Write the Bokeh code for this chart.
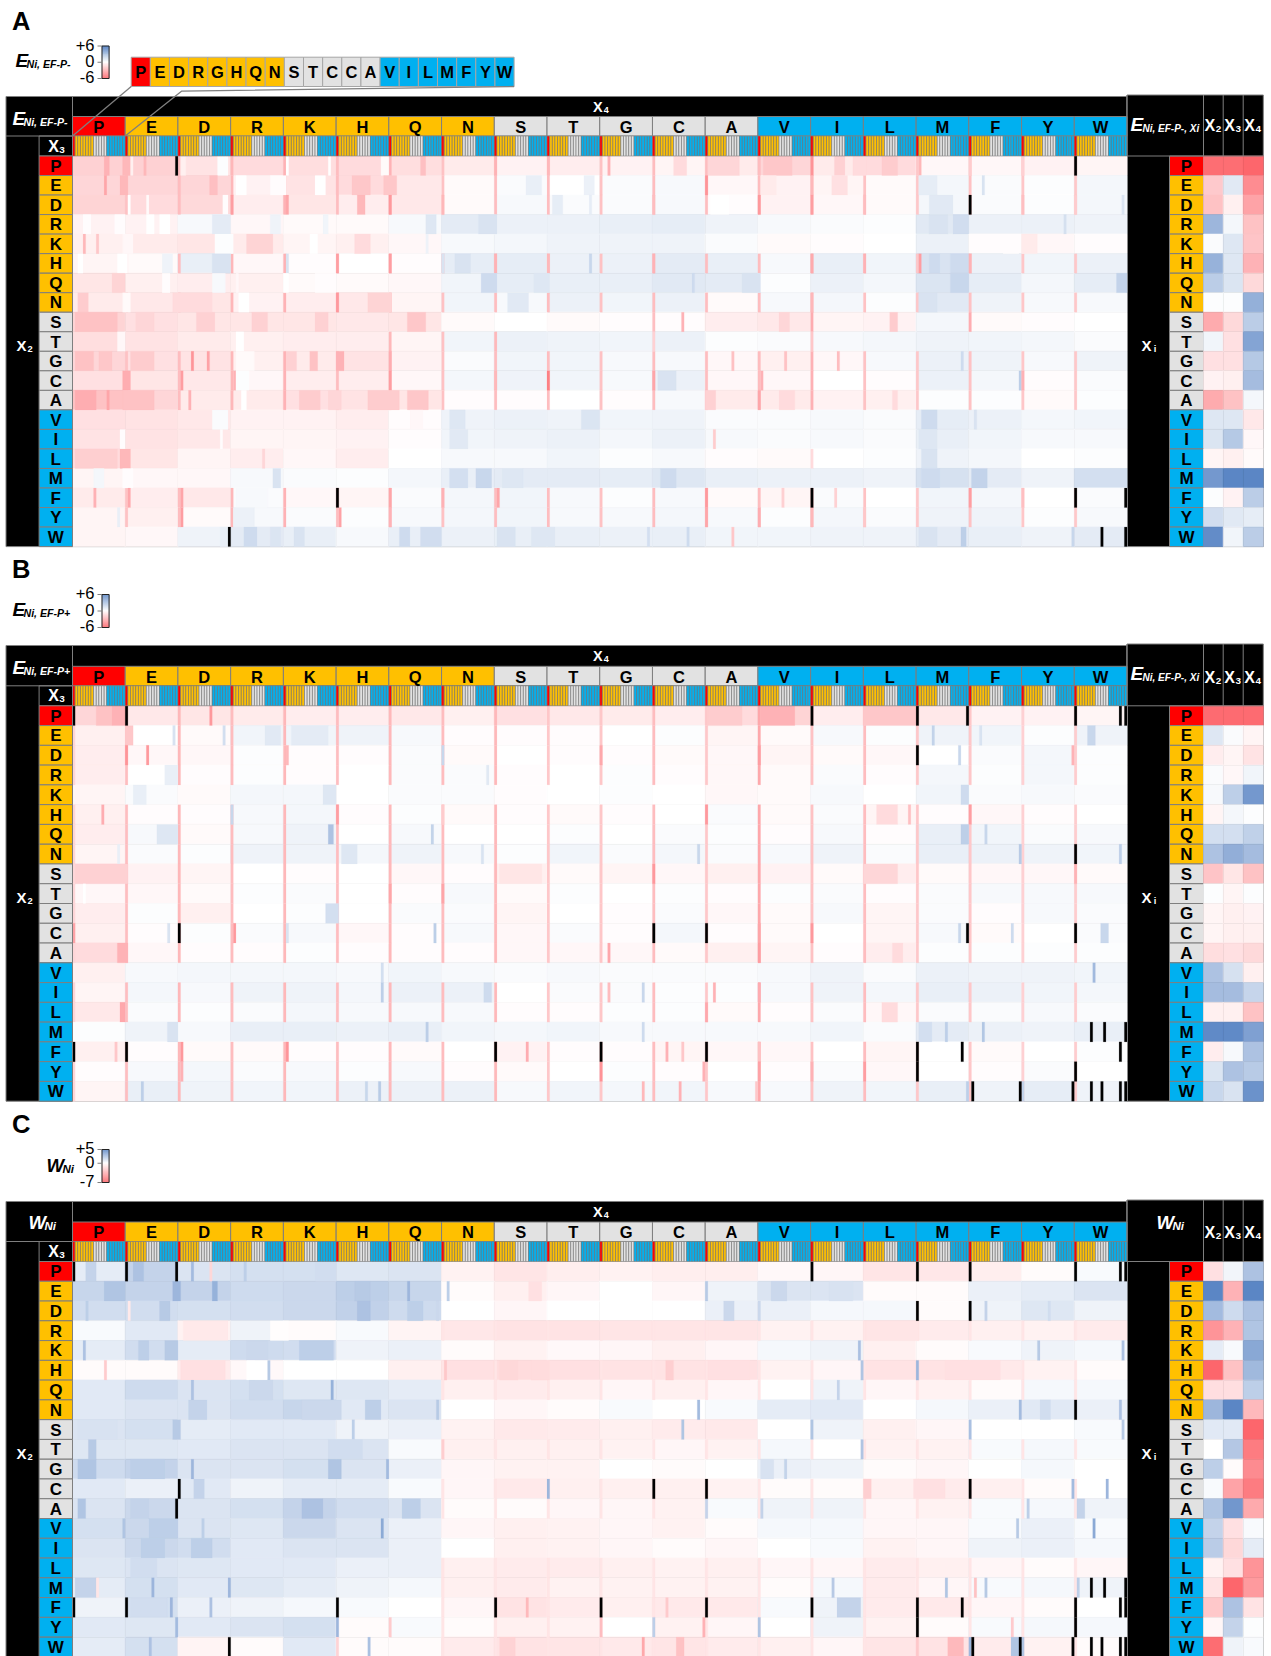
from bokeh.plotting import figure
from bokeh.models import Range1d, ColumnDataSource
from bokeh.embed import file_html
from bokeh.resources import INLINE
from bokeh.core.properties import value

X_AA = list("PEDRKHQNSTGCAVILMFYW")
KEY_AA = list("PEDRGHQNSTCCAVILMFYW")
GROUPS = ["P"] + ["pol"] * 7 + ["sma"] * 5 + ["hyd"] * 7

# Heat values, one per X2 row and X4 block, in tenths of a score unit
A_heat = [
 [-18,-18,-11,-14,-13,-14,-13,-8,-5,-7,-5,-4,-8,-16,-8,-14,-3,-3,-5,-4],
 [-16,-16,-16,-5,-11,-14,-9,-2,2,0,2,3,-3,-5,-4,-2,4,2,1,4],
 [-17,-14,-15,-7,-10,-7,-9,-2,3,2,2,3,-1,-5,-3,-2,4,2,1,4],
 [-5,-5,3,-3,-2,-2,3,10,7,7,8,9,6,3,2,1,11,7,7,6],
 [-6,-8,-10,-8,-4,-6,-3,3,4,6,6,6,2,-2,-1,0,7,-1,-3,-1],
 [-4,-2,8,-3,-1,0,-1,9,9,7,7,10,8,3,8,5,14,7,5,7],
 [-10,-6,-7,-6,-2,-2,-3,5,9,8,8,11,10,1,7,4,13,9,4,9],
 [-8,-9,-10,-5,-7,-9,-4,5,3,7,5,7,-2,3,4,1,11,6,3,3],
 [-17,-12,-10,-10,-10,-9,-10,-2,0,-2,-1,-1,-7,-9,-4,-5,4,-2,-1,0],
 [-13,-11,-8,-6,-7,-7,-4,5,7,6,5,7,1,2,3,4,6,5,4,2],
 [-16,-12,-11,-6,-8,-11,-5,2,5,5,3,3,-3,-6,-3,3,7,6,3,6],
 [-12,-10,-9,-3,-7,-7,-3,4,6,5,3,7,-3,-3,0,-1,7,4,-1,2],
 [-24,-16,-8,-8,-12,-11,-10,-1,-1,0,-1,3,-8,-8,-5,-6,1,1,-2,1],
 [-12,-11,-9,-5,-5,-7,-1,6,7,6,5,6,2,2,3,2,9,7,4,5],
 [-11,-11,-9,-4,-4,-5,-1,5,6,7,4,7,3,2,3,2,8,5,3,3],
 [-14,-10,-4,-7,-3,-7,0,3,3,5,1,3,-1,-2,0,1,6,4,0,1],
 [-4,-3,-3,3,2,1,4,8,10,10,9,12,8,7,7,6,15,10,6,16],
 [-8,-7,-9,2,-3,-4,2,4,5,3,1,3,-2,-4,2,0,5,4,0,2],
 [-4,-6,-2,3,2,1,3,4,5,3,3,4,3,1,4,2,6,6,1,3],
 [-4,-3,6,10,8,3,8,7,8,8,7,8,5,5,6,6,10,8,6,10],
]
B_heat = [
 [-16,-9,-10,-8,-7,-7,-9,-6,-12,-9,-8,-7,-14,-17,-7,-15,-9,-5,-5,-4],
 [-6,0,-2,5,5,6,3,-1,-1,-1,0,1,-4,-2,3,1,6,5,1,6],
 [-7,-3,-3,1,-1,-1,2,-2,0,-1,-1,-2,-3,-4,-2,-3,0,2,4,1],
 [-7,0,-1,1,-1,0,2,2,-1,0,1,-1,-3,-2,2,-1,4,1,4,1],
 [-4,2,-2,4,4,0,2,2,-1,0,1,0,-3,-2,3,0,5,2,3,2],
 [-6,-1,-1,3,4,-1,1,-2,-1,-2,-1,0,2,-2,2,-4,-1,-3,-1,0],
 [-7,3,-2,3,6,0,3,0,0,1,0,2,1,-1,3,-1,8,5,2,3],
 [-4,2,1,6,6,4,6,3,1,5,2,4,2,3,6,2,8,7,6,5],
 [-12,-5,-4,0,-1,0,-3,-1,-6,-2,-4,-3,-6,-5,-2,-7,-2,-3,-3,-2],
 [-3,-3,-2,1,2,0,-1,3,-2,1,0,1,-1,1,2,-1,2,3,3,3],
 [-7,1,-6,0,1,0,2,2,-4,0,-1,2,-3,-2,3,-4,2,-1,3,2],
 [-6,-1,1,2,3,-3,-1,3,-3,2,-1,4,-1,-2,0,-4,3,-2,0,2],
 [-14,-3,-1,-1,1,-1,-1,-1,-3,-3,-3,-2,-6,-4,-1,-7,1,1,1,1],
 [-6,3,4,4,4,3,5,3,2,3,2,2,2,3,6,2,7,6,6,5],
 [-4,4,3,6,6,4,7,7,0,2,2,1,1,3,6,4,8,7,5,4],
 [-9,2,1,2,4,3,3,3,-1,-1,1,1,-2,-1,2,-3,2,2,3,2],
 [1,6,3,8,8,7,8,5,4,5,3,3,3,3,5,2,10,7,6,8],
 [-6,-1,-2,-2,-1,-1,-2,0,-5,-1,-1,-4,-3,-3,0,-4,0,-2,0,1],
 [-1,3,4,2,3,1,3,-1,-2,0,1,-1,0,-1,2,-3,0,-1,2,0],
 [-4,8,6,5,5,7,7,7,3,5,4,5,3,3,6,5,8,6,9,6],
]
C_heat = [
 [8,18,11,13,13,10,11,-6,-12,-8,-6,-8,-8,-3,-4,-12,-11,-8,-2,2],
 [17,18,18,15,16,20,17,-2,-7,-4,0,-4,5,11,11,-2,-2,6,8,11],
 [14,14,13,14,16,19,15,0,-4,0,0,0,6,6,3,3,-2,5,10,5],
 [2,9,-6,5,-2,2,-5,-11,-13,-13,-12,-12,-12,-6,-6,-12,-9,-7,-6,-9],
 [8,14,8,15,14,5,6,-2,-6,-3,-4,-7,-4,3,5,-7,-2,2,5,3],
 [-2,-2,-9,-3,0,0,-7,-14,-16,-14,-13,-13,-14,-6,-4,-13,-13,-10,-6,-2],
 [9,15,11,13,10,10,8,-7,-9,-7,-4,-7,-4,0,5,-4,-6,-2,3,3],
 [9,11,11,14,17,9,11,0,-4,-2,2,0,2,8,9,0,3,6,9,6],
 [11,13,8,9,9,5,6,-6,-10,-9,-7,-9,-10,0,5,-7,-4,0,0,2],
 [10,10,9,11,11,11,2,-7,-7,-7,-6,-4,-6,3,0,-6,-6,2,3,2],
 [15,18,11,11,13,11,6,-4,-6,-6,0,-2,0,6,5,-2,-4,0,3,0],
 [9,6,9,5,8,8,2,-4,-10,-7,-7,-7,-6,-2,-2,-7,-9,-7,-2,0],
 [11,16,11,13,18,14,11,-2,-2,-4,-4,-6,2,5,5,-4,-6,2,3,5],
 [13,16,11,10,16,11,6,-4,-7,-6,-4,-6,-2,3,3,-4,-4,2,6,2],
 [11,16,14,9,11,11,6,0,-7,-6,-4,-2,-4,0,2,-6,-4,5,6,3],
 [10,11,10,9,9,6,6,-7,-9,-9,-7,-6,-7,-4,-4,-9,-7,-4,-2,-4],
 [8,13,9,10,8,5,3,-7,-9,-6,-6,-6,-6,-2,3,-9,-4,2,3,5],
 [5,13,6,5,3,2,0,-4,-13,-9,-7,-10,-10,2,5,-9,-10,-4,-2,0],
 [9,10,9,11,13,-2,2,-2,-7,-6,0,-6,-4,0,5,-6,-2,2,3,3],
 [8,13,-5,-2,9,-2,-2,-9,-13,-12,-10,-12,-9,-7,-4,-12,-13,-9,-6,-2],
]
# Side tables: X2, X3, X4 per row, tenths of a score unit
A_side = [[-57,-57,-60],[-21,11,-45],[-24,-6,-36],[36,4,-24],[2,12,-23],[38,12,-30],[25,13,-15],[1,1,39],[-33,-15,25],[5,-12,45],[-12,-12,27],[-5,-6,33],[-33,-24,4],[12,12,-9],[13,27,-3],[-4,-6,-2],[51,60,60],[1,-5,25],[17,11,9],[57,5,25]]
B_side = [[-58,-58,-58],[12,2,-4],[-7,-4,-11],[2,-3,5],[3,24,51],[-4,4,1],[16,16,23],[30,40,33],[-23,-10,-24],[1,-4,1],[-4,-6,-5],[-4,-6,-6],[-13,-12,-15],[30,15,-6],[33,33,21],[-6,-6,-24],[58,58,47],[-7,3,30],[13,30,26],[20,14,54]]
C_side = [[-14,4,25],[50,-35,50],[28,15,25],[-49,-35,24],[8,2,36],[-70,-28,29],[-15,-15,20],[30,50,-32],[9,9,-70],[0,23,-60],[20,-2,-53],[2,-42,-60],[24,43,-39],[18,-14,2],[21,-18,8],[-6,-14,-49],[-13,-70,-46],[-25,25,-13],[-4,18,1],[-67,5,2]]
# Value of the X3=P cell at the start of each X4 block; rows in *_off show no such stripe
A_stripe = [0,-24,-26,-28,-30,-26,-30,-24,-26,-26,-24,-26,-26,-26,-30,-24,-22,-24,-22,-22]
B_stripe = [-16,-26,-28,-26,-28,-26,-28,-26,-28,-22,-22,-26,-22,-34,-24,-26,-22,-22,-18,-20]
C_stripe = [0,0,0,0,0,0,0,-12,-12,-12,-12,-12,-12,-12,-12,-12,-12,-12,-12,-12]
A_off = ["R", "K", "Q", "S", "T", "V", "I", "L", "M", "W"]
B_off = ["M", "V", "K"]
C_off = ["E", "D", "K", "N", "P", "S", "G", "V", "I"]
# Streaks that stand out: (X2, first column, last column, value)
A_streak = [
 ("P",12,13,-30),("P",19,21,-28),("P",27,27,-28),("P",22,22,-6),("P",41,42,-6),("P",55,58,1),("P",81,81,0),("P",97,97,0),("P",117,119,-2),("P",132,133,-25),("P",160,160,-30),("P",180,180,-28),("P",203,203,-30),
 ("P",228,232,-14),("P",241,252,-16),("P",262,272,-22),("P",280,280,-42),("P",289,292,-18),("P",296,300,-14),("P",307,312,-20),("P",321,321,-28),("P",340,340,-20),("P",360,360,-18),
 ("E",12,12,-35),("E",18,20,-28),("E",52,54,-25),("E",62,65,0),("E",75,80,-1),("E",92,95,0),("E",106,112,-22),("E",118,122,-22),("E",172,177,8),("E",194,197,7),
 ("E",240,240,-42),("E",261,266,-8),("E",280,280,-28),("E",288,293,-12),("E",321,327,9),("E",345,345,14),
 ("D",21,21,0),("D",28,28,-2),("D",57,58,-1),("D",60,60,-38),("D",81,81,-35),("D",108,110,-28),("D",120,120,-40),("D",140,140,-28),("D",182,185,9),("D",196,196,9),
 ("D",220,220,-26),("D",242,248,0),("D",260,260,-40),("D",280,280,-38),("D",300,300,-26),("D",325,333,11),("D",360,360,-25),("D",380,380,-20),("D",398,398,13),
 ("R",4,6,-1),("R",16,19,-1),("R",28,30,0),("R",33,36,0),("R",53,59,10),("R",75,78,6),("R",95,96,5),("R",134,137,12),("R",154,160,14),("R",325,331,14),("R",334,339,17),("R",376,376,15),
 ("K",4,4,-28),("K",9,9,-22),("K",19,22,-3),("K",54,60,1),("K",66,75,-17),("K",90,92,0),("K",107,112,-14),("K",134,134,6),("K",353,358,-1),("K",360,365,-8),
 ("H",2,3,0),("H",17,20,0),("H",34,37,6),("H",53,59,14),("H",81,81,14),("H",100,100,-38),("H",120,120,-38),("H",140,140,14),("H",145,150,14),("H",160,160,-30),("H",180,180,-28),("H",196,196,20),
 ("H",220,220,-30),("H",280,280,-33),("H",300,300,-30),("H",321,321,-38),("H",325,328,18),("H",333,339,18),("H",340,340,-30),
 ("Q",15,19,-17),("Q",34,36,-1),("Q",53,57,3),("Q",62,62,-3),("Q",80,81,0),("Q",92,99,-1),("Q",155,160,18),("Q",175,180,12),("Q",235,235,18),("Q",254,260,14),("Q",333,339,20),("Q",396,399,22),
 ("N",2,5,-20),("N",19,21,-2),("N",38,52,-14),("N",63,66,0),("N",100,100,-40),("N",112,120,-17),("N",165,172,11),("N",280,280,-28),("N",321,327,14),
 ("S",1,16,-24),("S",24,30,-16),("S",47,53,-18),("S",68,73,-18),("S",92,96,-18),("S",127,133,-22),("S",220,220,-25),("S",231,231,-30),("S",268,271,-16),("S",280,280,-32),("S",310,312,-20),("S",340,340,-32),
 ("T",17,19,-3),("T",62,64,0),("T",120,120,-28),("T",140,140,-24),("T",160,160,-28),("T",220,220,-18),("T",280,280,-22),
 ("G",1,7,-24),("G",10,14,-22),("G",22,30,-20),("G",45,45,-42),("G",51,51,-36),("G",62,68,-2),("G",81,84,-18),("G",90,92,-24),("G",100,102,-30),("G",120,120,-32),("G",250,250,-24),("G",270,270,-24),("G",290,290,-26),("G",337,337,18),
 ("C",19,21,-32),("C",41,41,-38),("C",61,61,-30),("C",62,66,1),("C",120,120,-38),("C",160,160,-28),("C",180,180,-50),("C",220,220,-35),("C",222,228,14),("C",261,261,-30),("C",359,359,24),("C",360,360,-30),
 ("A",1,8,-32),("A",13,13,-35),("A",19,30,-24),("A",44,44,-30),("A",64,65,0),("A",86,93,-20),("A",97,101,-16),("A",112,123,-20),("A",127,134,-22),("A",240,243,-18),("A",260,260,-35),("A",268,273,-14),("A",311,312,-14),
 ("V",53,58,2),("V",128,132,-3),("V",143,148,12),("V",193,199,13),("V",322,327,18),("V",342,342,14),
 ("I",18,19,-1),("I",56,56,-1),("I",143,149,11),("I",243,243,-20),("I",321,327,12),
 ("L",1,16,-19),("L",18,21,-28),("L",72,72,-16),("L",280,280,-14),("L",322,327,14),
 ("M",8,11,4),("M",19,22,-1),("M",76,78,14),("M",143,149,16),("M",153,158,20),("M",163,170,12),("M",223,228,18),("M",322,328,18),("M",341,346,22),
 ("F",8,8,-30),("F",21,21,-34),("F",41,41,-35),("F",62,73,3),("F",120,120,-35),("F",140,140,-30),("F",161,161,-35),("F",240,240,-40),("F",269,269,-18),("F",289,289,-18),("F",340,340,-38),("F",360,360,-25),
 ("Y",17,17,8),("Y",41,41,-38),("Y",61,68,7),("Y",101,101,-36),("Y",120,120,-30),("Y",240,240,-35),("Y",260,260,-32),("Y",280,280,-28),("Y",300,300,-22),
 ("W",56,58,8),("W",65,69,18),("W",75,78,13),("W",84,87,14),("W",124,127,18),("W",132,139,17),("W",161,167,14),("W",174,182,12),("W",218,218,16),("W",233,233,18),("W",250,250,-22),("W",321,327,14),("W",337,338,24),("W",379,379,20),
]
B_streak = [
 ("P",9,14,-24),("P",15,19,-30),("P",52,52,-40),("P",241,253,-20),("P",261,273,-30),("P",300,319,-22),
 ("E",20,22,-22),("E",38,38,14),("E",57,57,16),("E",73,78,11),("E",83,96,10),("E",326,326,22),("E",344,344,14),("E",385,387,20),
 ("D",20,20,-42),("D",28,28,-40),("D",81,81,-28),("D",140,140,20),("D",200,200,-34),("D",260,260,-38),("D",336,336,20),("D",379,379,-30),
 ("R",35,39,8),("R",157,157,11),("K",23,27,8),("K",95,99,12),("K",337,339,18),
 ("H",11,11,-32),("H",60,60,20),("H",100,100,-38),("H",140,140,-20),("H",240,240,-40),("H",305,312,-14),("H",317,317,-25),("H",340,340,-38),
 ("Q",32,39,12),("Q",97,98,30),("Q",136,136,22),("Q",337,339,24),("Q",346,346,20),
 ("N",17,17,8),("N",102,107,12),("N",155,155,14),("N",237,237,20),("N",359,359,26),("N",397,397,24),
 ("S",1,20,-18),("S",162,177,-10),("S",220,220,-40),("S",300,312,-16),("S",380,380,-30),
 ("T",4,4,0),("T",120,120,-35),("T",140,140,-35),
 ("G",96,100,16),
 ("C",0,0,-36),("C",36,36,14),("C",61,61,-40),("C",81,81,14),("C",137,137,24),("C",260,260,-35),("C",280,280,-40),("C",336,336,20),("C",356,356,18),("C",390,392,20),
 ("A",17,20,-30),("A",203,203,-34),("A",260,260,-38),("A",311,314,-14),
 ("V",117,117,16),("V",387,387,34),
 ("I",117,117,24),("I",156,158,18),("I",203,203,-26),("I",216,216,20),("I",243,243,-30),("I",260,260,-32),
 ("L",18,19,-34),("L",240,240,-34),("L",307,312,-14),
 ("M",134,134,24),("M",36,39,14),("M",216,216,18),("M",321,325,16),("M",331,331,24),("M",345,345,28),
 ("F",16,16,-22),("F",41,41,-40),("F",81,81,-42),("F",172,172,-32),("F",225,225,-30),("F",231,231,-22),("F",260,260,-24),
 ("Y",41,41,-30),("Y",200,200,-42),("Y",239,239,-30),("Y",260,260,-36),("Y",280,280,-30),("Y",300,300,-38),
 ("W",26,26,24),("W",111,111,20),("W",116,116,26),("W",216,216,-28),("W",230,230,-30),("W",259,259,-22),("W",339,339,24),("W",360,360,22),
]
C_streak = [
 ("P",5,8,18),("P",23,26,25),("P",45,45,28),("P",52,52,-18),("P",65,65,20),("P",92,99,14),
 ("E",12,19,24),("E",38,40,30),("E",53,54,32),("E",107,112,22),("E",127,127,30),("E",142,142,20),("E",173,177,-14),("E",240,240,22),("E",265,270,16),("E",287,295,12),
 ("D",5,5,20),("D",21,21,-10),("D",33,36,22),("D",108,112,25),("D",127,132,20),("D",138,138,16),("D",247,250,16),("D",260,260,16),("D",346,346,18),("D",370,370,14),
 ("R",42,58,-10),("R",75,81,-1),("R",301,320,-12),
 ("K",4,4,25),("K",25,28,20),("K",35,39,22),("K",66,73,16),("K",86,98,20),("K",298,298,26),("K",366,366,22),("K",398,398,25),
 ("H",12,12,-24),("H",41,57,-14),("H",66,74,0),("H",74,74,22),("H",141,141,-25),("H",162,168,-18),("H",174,180,-16),("H",225,227,-22),("H",241,256,-14),("H",299,299,24),("H",320,320,30),("H",331,351,-14),
 ("Q",45,45,25),("Q",67,75,16),("Q",98,98,32),("Q",290,290,18),
 ("N",44,50,18),("N",87,101,16),("N",111,116,20),("N",138,138,22),("N",237,237,28),("N",359,359,28),("N",367,370,14),("N",397,397,25),
 ("S",2,16,12),("S",38,40,22),("S",106,106,20),("S",231,231,24),("S",280,280,24),("S",340,340,26),("S",398,398,22),
 ("T",6,8,22),("T",97,109,14),("T",140,140,-22),("T",299,299,24),
 ("G",2,8,24),("G",22,34,20),("G",45,45,30),("G",97,101,24),("G",119,119,28),("G",261,265,12),("G",270,270,18),
 ("C",46,49,18),("C",180,180,30),("C",300,302,-22),("C",319,330,-14),("C",379,379,28),("C",392,392,30),
 ("A",2,4,24),("A",22,28,18),("A",87,94,25),("A",125,131,20),("A",240,240,18),("A",261,261,18),("A",362,362,20),("A",381,383,18),
 ("V",19,19,24),("V",29,39,20),("V",49,49,20),("V",117,117,35),("V",358,358,22),("V",387,387,35),
 ("I",26,34,20),("I",45,52,20),
 ("L",22,31,14),
 ("M",1,8,18),("M",9,9,-12),("M",30,30,30),("M",59,59,30),("M",288,288,22),("M",331,331,24),("M",342,342,-28),("M",346,346,22),("M",381,381,20),
 ("F",22,35,14),("F",37,37,30),("F",52,52,25),("F",172,172,-32),("F",225,225,-24),("F",290,298,18),
 ("Y",39,39,28),("Y",100,100,30),("Y",120,120,-24),("Y",200,200,-30),("Y",220,220,20),("Y",239,239,-35),("Y",260,260,24),("Y",356,356,-24),
 ("W",29,29,25),("W",100,100,-20),("W",112,112,26),("W",162,167,-20),("W",216,216,-40),("W",229,231,-28),("W",320,320,-25),("W",332,337,-32),("W",340,340,30),("W",356,360,24),
]
# Missing cells, drawn black: (X2, column)
A_black = [("P",39),("F",100),("W",59),("P",380),("D",340),("F",280),("F",380),("F",399),("W",390),("W",399)]
B_black = [("P",0),("P",20),("C",40),("F",0),("F",20),("F",160),("F",200),("P",280),("P",320),("P",339),("P",380),("P",397),("P",399),
           ("D",320),("N",380),("C",220),("C",240),("C",339),("C",380),("M",386),("M",391),("M",399),("F",240),("F",320),("F",337),("F",397),
           ("Y",320),("Y",380),("W",341),("W",359),("W",379),("W",386),("W",390),("W",397),("W",399)]
C_black = [("P",0),("P",20),("P",39),("C",40),("A",39),("F",0),("F",20),("F",100),("F",160),("F",200),("W",59),
           ("P",280),("P",320),("P",340),("P",380),("P",397),("P",399),("D",320),("D",340),("N",380),("C",220),("C",240),("C",340),
           ("M",386),("M",391),("M",399),("F",240),("F",280),("F",320),("F",337),("F",380),("F",397),("F",399),("Y",320),("Y",380),
           ("W",341),("W",359),("W",379),("W",386),("W",390),("W",397),("W",399)]
LEG_A = ["+6", "0", "-6"]
LEG_C = ["+5", "0", "-7"]

RED, ORG, GRY, BLU = "#FF0000", "#FFC000", "#E2E2E2", "#00B0F0"
EDGE = "#7F7F7F"
SANS = "Liberation Sans"
GCOL = {"P": RED, "pol": ORG, "sma": GRY, "hyd": BLU}
X0, X1 = 72.0, 1126.5
CW = (X1 - X0) / 400
BW = CW * 20

def col_of(v, lo, hi):
    if v >= 0:
        f = min(v / hi, 1)
        end = (91, 134, 197)
    else:
        f = min(v / lo, 1)
        end = (253, 102, 108)
    c = [round(255 + (e - 255) * f) for e in end]
    return "#%02X%02X%02X" % tuple(c)

p = figure(width=1271, height=1656, x_range=Range1d(0, 1271), y_range=Range1d(1656, 0),
           output_backend="svg", toolbar_location=None, min_border=0, margin=(0, 0, 0, 0),
           background_fill_color="white", border_fill_color="white", outline_line_color=None)
p.xaxis.visible = False
p.yaxis.visible = False
p.xgrid.visible = False
p.ygrid.visible = False

Q = dict(l=[], r=[], t=[], b=[], f=[], e=[], w=[])
def box(l, r, t, b, fill, edge=None, w=0.0):
    Q["l"].append(l); Q["r"].append(r); Q["t"].append(t); Q["b"].append(b)
    Q["f"].append(fill); Q["e"].append(edge if edge else fill); Q["w"].append(w)

T = {s: dict(x=[], y=[], s=[], z=[], c=[], a=[]) for s in ("bold", "bold italic", "normal")}
def txt(x, y, s, z, c="black", style="bold", a="center"):
    d = T[style]
    d["x"].append(x); d["y"].append(y); d["s"].append(s); d["z"].append("%gpx" % z); d["c"].append(c); d["a"].append(a)

def xsub(x, y, sub, color="white", z=16):
    txt(x - 2, y, "X", z, color)
    txt(x + 6.5, y + 3.5, sub, z * 0.62, color)

L = dict(x0=[], x1=[], y0=[], y1=[])
def ln(x0, y0, x1, y1):
    L["x0"].append(x0); L["x1"].append(x1); L["y0"].append(y0); L["y1"].append(y1)

def cell(heat_top, rh, aa, c0, c1, fill):
    y0 = heat_top + X_AA.index(aa) * rh
    box(X0 + c0 * CW, X0 + (c1 + 1) * CW, y0, y0 + rh, fill, None, 0.15)

def panel(top, heat_top, rh, heat, side, stripe, off, streak, black, lo, hi, head_label, side_label, xhead_y):
    hb = min(heat_top + rh * 20, 1656)
    letter_t, letter_b = heat_top - 39.5, heat_top - 20
    box(5.5, X1, top, hb, "black", EDGE, 1)
    box(X1, 1262.8, top - 1.5, hb, "black", EDGE, 1)
    for r, row in enumerate(heat):
        y0 = heat_top + r * rh
        for i, v in enumerate(row):
            box(X0 + i * BW, X0 + (i + 1) * BW, y0, y0 + rh, col_of(v, lo, hi), None, 0.8)
    for r, aa in enumerate(X_AA):
        if aa not in off:
            for i, v in enumerate(stripe):
                if v:
                    cell(heat_top, rh, aa, i * 20, i * 20, col_of(v, lo, hi))
    for aa, c0, c1, v in streak:
        cell(heat_top, rh, aa, c0, c1, col_of(v, lo, hi))
    for aa, c in black:
        cell(heat_top, rh, aa, c, c, "black")
    for i, aa in enumerate(X_AA):
        box(X0 + i * BW, X0 + (i + 1) * BW, letter_t, letter_b, GCOL[GROUPS[i]], EDGE, 1)
        txt(X0 + (i + 0.5) * BW, (letter_t + letter_b) / 2 + 0.5, aa, 16.5)
        for j, g in enumerate(GROUPS):
            box(X0 + i * BW + j * CW, X0 + i * BW + (j + 1) * CW, letter_b, heat_top, GCOL[g], EDGE, 0.6)
    box(38.6, X0, letter_b, heat_top, "black", EDGE, 1)
    xsub(55, (letter_b + heat_top) / 2, "3")
    for r, aa in enumerate(X_AA):
        y0 = heat_top + r * rh
        g = GCOL[GROUPS[r]]
        box(38.6, X0, y0, y0 + rh, g, EDGE, 1)
        txt(55.3, y0 + rh / 2 + 0.5, aa, 17)
        box(1169, 1203, y0, y0 + rh, g, EDGE, 1)
        txt(1186, y0 + rh / 2 + 0.5, aa, 17)
        for k, xs in enumerate([(1203, 1222.7), (1222.7, 1242.7), (1242.7, 1262.8)]):
            box(xs[0], xs[1], y0, y0 + rh, col_of(side[r][k], lo, hi), None, 0.6)
    ln(X0, top, X0, letter_t)
    ln(X1, top - 1.5, X1, heat_top)
    ln(1203, top - 1.5, 1203, heat_top)
    ln(1222.7, top - 1.5, 1222.7, heat_top)
    ln(1242.7, top - 1.5, 1242.7, heat_top)
    ln(X1, heat_top, 1262.8, heat_top)
    ln(5.5, letter_b, X0, letter_b)
    xsub(X0 + 10 * BW, top + 10, "4", z=14.5)
    xsub(23, heat_top + rh * 9.7, "2", z=15)
    xsub(1148, heat_top + rh * 9.7, "i", z=15)
    head_label(top)
    side_label(top)
    for xc, s in [(1212.9, "2"), (1232.7, "3"), (1252.7, "4")]:
        xsub(xc - 1.5, xhead_y, s, z=16)

def ef_head(sign):
    def f(top):
        txt(12, top + 22, "E", 19, "white", "bold italic", "left")
        txt(23, top + 25.5, "Ni, EF-P" + sign, 10.6, "white", "bold italic", "left")
    return f

def ef_side(sign):
    def f(top):
        txt(1130, top + 28, "E", 19, "white", "bold italic", "left")
        txt(1142, top + 31.5, "Ni, EF-P" + sign + ", Xi", 10, "white", "bold italic", "left")
    return f

def w_head(top):
    txt(28, top + 21, "W", 18.5, "white", "bold italic", "left")
    txt(44, top + 24.5, "Ni", 11.5, "white", "bold italic", "left")

def w_side(top):
    txt(1156, top + 21, "W", 18.5, "white", "bold italic", "left")
    txt(1172, top + 24.5, "Ni", 11.5, "white", "bold italic", "left")

panel(96, 155.5, 19.53, A_heat, A_side, A_stripe, A_off, A_streak, A_black, -60, 60, ef_head("-"), ef_side("-"), 125)
panel(645, 705.3, 19.77, B_heat, B_side, B_stripe, B_off, B_streak, B_black, -60, 60, ef_head("+"), ef_side("-"), 677)
panel(1201, 1261, 19.77, C_heat, C_side, C_stripe, C_off, C_streak, C_black, -70, 50, w_head, w_side, 1232)

def legend(y0, y1, labels, lo, hi):
    n = 33
    h = (y1 - y0) / n
    ym = y0 + (y1 - y0) * hi / (hi - lo)
    for k in range(n):
        yc = y0 + (k + 0.5) * h
        v = (ym - yc) / (ym - y0) * hi if yc < ym else (yc - ym) / (y1 - ym) * lo
        box(101.5, 108.6, y0 + k * h, y0 + (k + 1) * h, col_of(v, lo, hi), None, 0.3)
    for yy, s in zip((y0, ym, y1), labels):
        ln(97, yy, 101.5, yy)
        txt(94, yy - 1.5, s, 16.5, "black", "normal", "right")
    return (101.5, 108.6, y0, y1)

frames = [legend(45.5, 78, LEG_A, -60, 60), legend(594, 627, LEG_A, -60, 60), legend(1149, 1182, LEG_C, -70, 50)]

txt(11.5, 20, "A", 25.5, "black", "bold", "left")
txt(11.5, 568, "B", 25.5, "black", "bold", "left")
txt(11.5, 1123, "C", 25.5, "black", "bold", "left")

txt(15, 60, "E", 19, "black", "bold italic", "left")
txt(26, 63.5, "Ni, EF-P-", 10.6, "black", "bold italic", "left")
txt(12, 609, "E", 19, "black", "bold italic", "left")
txt(23, 612.5, "Ni, EF-P+", 10.6, "black", "bold italic", "left")
txt(46, 1165, "W", 18.5, "black", "bold italic", "left")
txt(62, 1168.5, "Ni", 11.5, "black", "bold italic", "left")

KX0, KX1, KY0, KY1 = 130.7, 513.6, 56.7, 86.0
KW = (KX1 - KX0) / 20
for i, aa in enumerate(KEY_AA):
    box(KX0 + i * KW, KX0 + (i + 1) * KW, KY0, KY1, GCOL[GROUPS[i]], "#A6A6A6", 1)
    txt(KX0 + (i + 0.5) * KW, (KY0 + KY1) / 2 + 0.5, aa, 16.5)

p.quad(left="l", right="r", top="t", bottom="b", fill_color="f", line_color="e", line_width="w", source=ColumnDataSource(Q))
p.quad(left=[f[0] for f in frames], right=[f[1] for f in frames], top=[f[2] for f in frames], bottom=[f[3] for f in frames],
       fill_color=None, line_color="#222222", line_width=1)
p.segment(x0="x0", y0="y0", x1="x1", y1="y1", line_color=EDGE, line_width=1, source=ColumnDataSource(L))
p.line(x=[KX0, X0], y=[KY1, 135.5], line_color=EDGE, line_width=1.3)
p.line(x=[KX1, 181, X0 + BW], y=[KY1, 90.7, 135.5], line_color=EDGE, line_width=1.3)

for style, d in T.items():
    p.text(x="x", y="y", text="s", text_font_size="z", text_color="c", text_align="a",
           text_baseline="middle", text_font=value(SANS), text_font_style=style, source=ColumnDataSource(d))

open("out.html", "w").write(file_html(p, INLINE))
